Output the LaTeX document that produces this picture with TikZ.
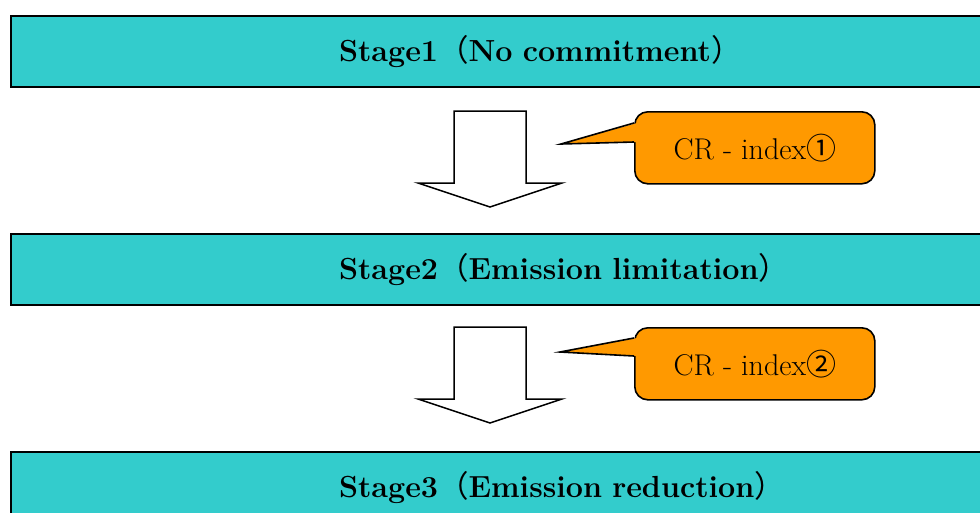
\documentclass[tikz,border=0pt]{standalone}
\usepackage{fontspec}
\newfontfamily\cjk{Noto Sans CJK JP}
\usetikzlibrary{positioning}
\definecolor{stagecol}{RGB}{51,204,204}
\definecolor{notecol}{RGB}{255,153,0}

\begin{document}
\begin{tikzpicture}[x=1pt, y=-1pt, node distance=145pt,
		stage/.style={draw, line width=2pt, fill=stagecol, minimum height=71pt, text width=620pt, inner xsep=328pt, inner ysep=0pt, align=left, font=\fontsize{30.5}{36}\selectfont\bfseries},
		down/.style={draw, line width=1.5pt, fill=white, line join=miter},
		note/.style={draw, line width=1.6pt, fill=notecol, rounded corners=13pt, minimum width=240pt, minimum height=72pt, inner sep=0pt, font=\fontsize{30}{34}\selectfont},
		tip/.style={draw, line width=1.6pt, line join=miter}]
		\useasboundingbox (0,0) rectangle (980,512);
		\clip (0,0) rectangle (980,512);

		\node [stage, anchor=north west] (S1) at (10,15) {Stage1{\cjk\mdseries （}No commitment{\cjk\mdseries ）}};
		\node [stage, below=of S1] (S2) {Stage2{\cjk\mdseries （}Emission limitation{\cjk\mdseries ）}};
		\node [stage, below=of S2] (S3) {Stage3{\cjk\mdseries （}Emission reduction{\cjk\mdseries ）}};

		\coordinate (A1) at (490,111);
		\coordinate (A2) at (490,327);
		\draw [down] (A1) ++(-36,0) -- ++(72,0) -- ++(0,72) -- ++(36,0) -- ++(-72,24) -- ++(-72,-24) -- ++(36,0) -- cycle;
		\draw [down] (A2) ++(-36,0) -- ++(72,0) -- ++(0,72) -- ++(36,0) -- ++(-72,24) -- ++(-72,-24) -- ++(36,0) -- cycle;

		\node [note, anchor=north west] (C1) at (634,111) {CR - index{\cjk ①}};
		\node [note, anchor=north west] (C2) at (634,327) {CR - index{\cjk ②}};
		\coordinate (T1) at (561,144);
		\coordinate (T2) at (560,352);

		\fill [notecol] ([xshift=3pt]C1.west |- 0,123) -- (T1) -- ([xshift=3pt]C1.west |- 0,142) -- cycle;
		\draw [tip] (C1.west |- 0,123) -- (T1) -- (C1.west |- 0,142);
		\fill [notecol] ([xshift=3pt]C2.west |- 0,338) -- (T2) -- ([xshift=3pt]C2.west |- 0,356) -- cycle;
		\draw [tip] (C2.west |- 0,338) -- (T2) -- (C2.west |- 0,356);
	\end{tikzpicture}
\end{document}
